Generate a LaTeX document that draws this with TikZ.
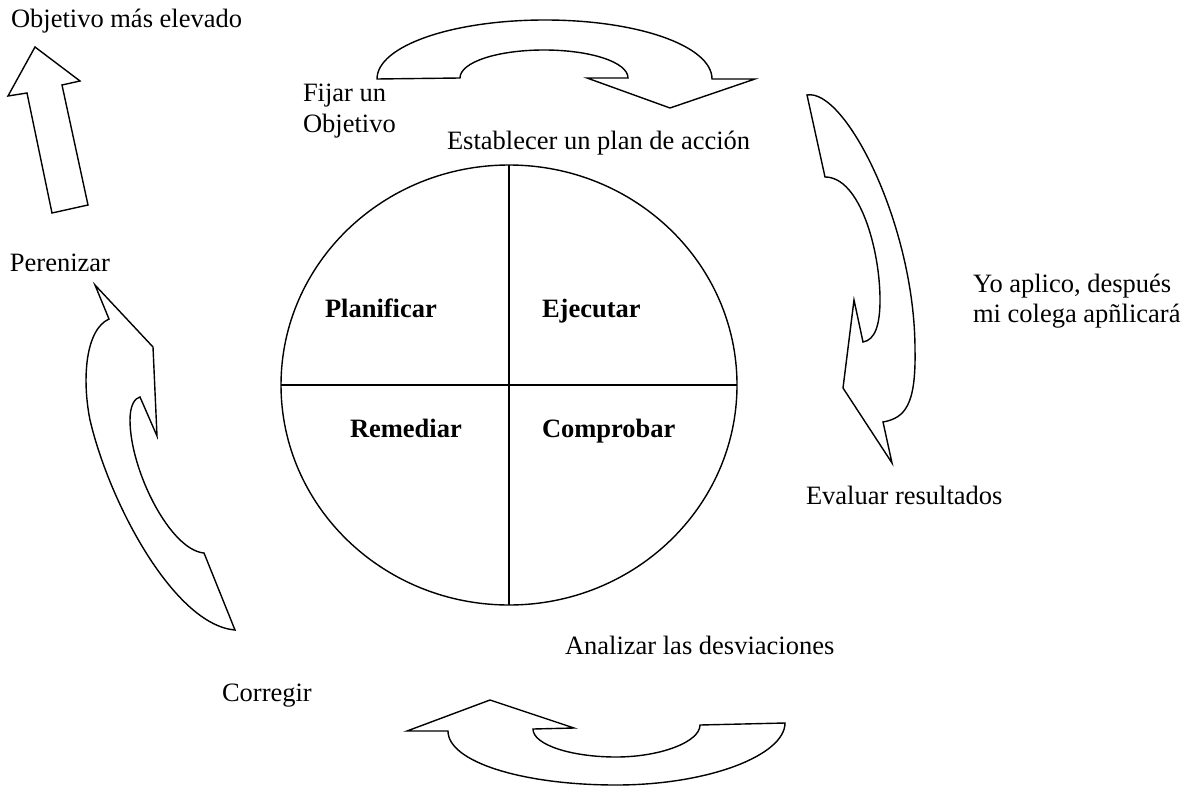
\documentclass[tikz,border=0pt]{standalone}
\usepackage{fontspec}
\setmainfont{Liberation Serif}
\usetikzlibrary{shapes.geometric}
\tikzset{
  lbl/.style={inner sep=0pt, outer sep=0pt, anchor=base west, font=\fontsize{13.25}{15}\selectfont},
  quad/.style={lbl, font=\fontsize{13.25}{15}\selectfont\bfseries},
  bigarrow/.style={draw=black, line width=0.7pt, fill=white, line join=miter},
  divider/.style={draw=black, line width=0.7pt}
}
\begin{document}
\begin{tikzpicture}[x=0.5pt, y=-0.5pt]
\useasboundingbox (0,0) rectangle (1186,786);

% central wheel
\node[draw=black, line width=0.7pt, ellipse, minimum width=228pt, minimum height=220pt, inner sep=0pt, outer sep=0pt] (wheel) at (509,385) {};
\draw[divider] (wheel.north) -- (wheel.south);
\draw[divider] (wheel.west) -- (wheel.east);

\node[quad] (plan) at (325,317) {Planificar};
\node[quad] (ejec) at (542,317) {Ejecutar};
\node[quad] (reme) at (350,437) {Remediar};
\node[quad] (comp) at (542,437) {Comprobar};

% top curved arrow
\draw[bigarrow] (377,79) .. controls (377,46) and (452,20) .. (545,20)
  .. controls (638,20) and (712,46) .. (712,79) -- (755,79) -- (670,108) -- (587,78) -- (628,78)
  .. controls (628,62) and (590,50) .. (544,50)
  .. controls (498,50) and (460,62) .. (460,78) -- cycle;

% right curved arrow
\draw[bigarrow] (807,95) .. controls (845,88) and (915,225) .. (915,350)
  .. controls (916,405) and (905,418) .. (883,422) -- (892,463) -- (843,388) -- (854,300) -- (863,342)
  .. controls (875,340) and (880,325) .. (880,300)
  .. controls (880,250) and (860,177) .. (825,177) -- cycle;

% bottom curved arrow
\draw[bigarrow] (407,731) -- (448,731) .. controls (448,762) and (523,785) .. (616,785)
  .. controls (709,785) and (785,755) .. (785,723) -- (700,725)
  .. controls (700,742) and (660,757) .. (616,757)
  .. controls (572,757) and (533,745) .. (533,729) -- (574,728) -- (490,700) -- cycle;

% left curved arrow
\draw[bigarrow] (95,285) -- (109,319) .. controls (85,330) and (82,380) .. (90,420)
  .. controls (110,505) and (175,625) .. (235,630) -- (204,553)
  .. controls (170,550) and (130,470) .. (130,420)
  .. controls (130,405) and (135,398) .. (140,397) -- (157,436) -- (153,347) -- cycle;

% straight up arrow
\draw[bigarrow] (35,47) -- (80,81) -- (62,85) -- (88,205) -- (52,213) -- (27,93) -- (8,96) -- cycle;

% labels
\node[lbl] (obj) at (11,28) {Objetivo más elevado};
\node[lbl] (fijar1) at (303,102) {Fijar un};
\node[lbl] (fijar2) at (303,133) {Objetivo};
\node[lbl] (estab) at (447,150) {Establecer un plan de acción};
\node[lbl] (yo1) at (973,292) {Yo aplico, después};
\node[lbl] (yo2) at (973,322) {mi colega apñlicará};
\node[lbl] (peren) at (10,271) {Perenizar};
\node[lbl] (eval) at (806,504) {Evaluar resultados};
\node[lbl] (anal) at (565,654) {Analizar las desviaciones};
\node[lbl] (corr) at (222,701) {Corregir};
\end{tikzpicture}
\end{document}
